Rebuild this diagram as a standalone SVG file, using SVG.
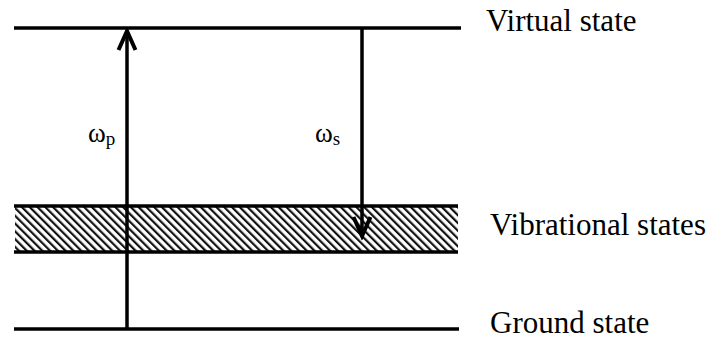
<svg xmlns="http://www.w3.org/2000/svg" width="716" height="341" viewBox="0 0 716 341">
<defs>
<pattern id="hatch" patternUnits="userSpaceOnUse" width="5.5" height="5.5" patternTransform="rotate(-45)">
<rect width="5.5" height="5.5" fill="#fff"/>
<rect x="0" y="0" width="2.2" height="5.5" fill="#111"/>
</pattern>
<marker id="head" markerWidth="26" markerHeight="24" viewBox="-3 -12 26 24" refX="19" refY="0" orient="auto" markerUnits="userSpaceOnUse">
<path d="M0,-8.5 L19,0 L0,8.5" fill="none" stroke="#000" stroke-width="4" stroke-linejoin="miter"/>
</marker>
</defs>
<style>
.lvl{stroke:#000;stroke-width:3.5;fill:none}
.arr{stroke:#000;stroke-width:3.5;fill:none}
.t{font-family:"Liberation Serif",serif;font-size:31px;fill:#000}
.w{font-family:"Liberation Serif",serif;font-size:27px;fill:#000}
.sub{font-size:19px}
</style>
<g id="virtual">
<line class="lvl" x1="14" y1="28" x2="461" y2="28"/>
<text class="t" x="486" y="31">Virtual state</text>
</g>
<g id="vibrational">
<rect x="15" y="206" width="443" height="46" fill="url(#hatch)"/>
<line class="lvl" x1="14" y1="206" x2="458" y2="206"/>
<line class="lvl" x1="14" y1="252" x2="458" y2="252"/>
<text class="t" x="490" y="235">Vibrational states</text>
</g>
<g id="ground">
<line class="lvl" x1="14" y1="329" x2="459" y2="329"/>
<text class="t" x="490" y="333">Ground state</text>
</g>
<g id="connectors">
<line class="arr" x1="127" y1="329" x2="127" y2="31" marker-end="url(#head)"/>
<line class="arr" x1="362" y1="28" x2="362" y2="236" marker-end="url(#head)"/>
</g>
<g id="labels">
<text class="w" x="88" y="142">ω<tspan class="sub" dy="3">p</tspan></text>
<text class="w" x="315" y="142">ω<tspan class="sub" dy="3">s</tspan></text>
</g>
</svg>
